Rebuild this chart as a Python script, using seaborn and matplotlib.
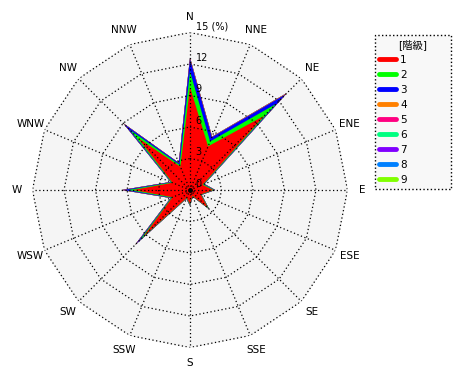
import numpy as np
import pandas as pd
import matplotlib
matplotlib.use("Agg")
import matplotlib.pyplot as plt
import seaborn as sns
from matplotlib.lines import Line2D

# wind directions, clockwise from north
directions = ['N', 'NNE', 'NE', 'ENE', 'E', 'ESE', 'SE', 'SSE',
              'S', 'SSW', 'SW', 'WSW', 'W', 'WNW', 'NW', 'NNW']
levels = ['1', '2', '3', '4', '5', '6', '7', '8', '9']
level_colors = ['#ff0000', '#00ff00', '#0000ff', '#ff8000', '#ff0080',
                '#00ff80', '#8000ff', '#0080ff', '#80ff00']

# frequency (%) of each class per direction
lv1 = [9.8, 4.5, 10.0, 1.3, 2.2, 1.1, 2.4, 0.6, 1.35, 0.8, 6.3, 1.8, 5.4, 1.8, 7.0, 2.4]
lv2 = [1.5, 0.5, 1.6, 0.1, 0.1, 0.05, 0.12, 0.05, 0.08, 0.05, 0.5, 0.1, 0.5, 0.1, 1.1, 0.2]
lv3 = [1.2, 0.45, 1.3, 0.08, 0.08, 0.04, 0.06, 0.04, 0.05, 0.04, 0.5, 0.08, 0.5, 0.08, 0.8, 0.18]
lv4 = [0.1, 0.05, 0.15, 0.02, 0.02, 0.01, 0.02, 0.01, 0.02, 0.01, 0.1, 0.02, 0.1, 0.02, 0.1, 0.02]
lv5 = [0.01, 0.0, 0.02, 0.0, 0.0, 0.0, 0.0, 0.0, 0.0, 0.0, 0.01, 0.0, 0.01, 0.0, 0.01, 0.0]
lv6 = [0.01, 0.0, 0.01, 0.0, 0.0, 0.0, 0.0, 0.0, 0.0, 0.0, 0.0, 0.0, 0.01, 0.0, 0.01, 0.0]
lv7 = [0.0, 0.0, 0.01, 0.0, 0.0, 0.0, 0.0, 0.0, 0.0, 0.0, 0.0, 0.0, 0.0, 0.0, 0.0, 0.0]
lv8 = [0.0, 0.0, 0.0, 0.0, 0.0, 0.0, 0.0, 0.0, 0.0, 0.0, 0.0, 0.0, 0.0, 0.0, 0.0, 0.0]
lv9 = [0.0, 0.0, 0.0, 0.0, 0.0, 0.0, 0.0, 0.0, 0.0, 0.0, 0.0, 0.0, 0.0, 0.0, 0.0, 0.0]

rings = [3, 6, 9, 12, 15]
ring_labels = ['3', '6', '9', '12', '15 (%)']

df = pd.DataFrame(dict(zip(levels, [lv1, lv2, lv3, lv4, lv5, lv6, lv7, lv8, lv9])),
                  index=directions)
cum = df.cumsum(axis=1)

sns.set_style("white")
plt.rcParams['font.family'] = ['DejaVu Sans', 'Noto Sans CJK JP']
plt.rcParams['text.color'] = 'black'
palette = sns.color_palette(level_colors)

fig = plt.figure(figsize=(4.7, 3.8), dpi=100)
ax = fig.add_axes([(190 - 157.5) / 470, (380 - 190 - 157.5) / 380,
                   315 / 470, 315 / 380], projection='polar')
ax.set_theta_zero_location('N')
ax.set_theta_direction(-1)
ax.set_ylim(0, 15)
ax.grid(False)
ax.set_xticks([])
ax.set_yticks([])
ax.spines['polar'].set_visible(False)
ax.patch.set_alpha(0)

theta = np.deg2rad(np.arange(len(directions)) * 22.5)
theta_c = np.append(theta, theta[0])

# gray background polygon
ax.fill(theta_c, [15] * len(theta_c), color='#f5f5f5', zorder=0)

# stacked classes, outermost first
for i in range(len(levels) - 1, -1, -1):
    r = cum[levels[i]].values
    ax.fill(theta_c, np.append(r, r[0]), color=palette[i], lw=0, zorder=2)

# dotted grid polygons and spokes
for rv in rings:
    ax.plot(theta_c, [rv] * len(theta_c), color='black', ls=(0, (1, 2)), lw=0.9, zorder=5)
for t in theta:
    ax.plot([t, t], [0, 15], color='black', ls=(0, (1, 2)), lw=0.9, zorder=5)
ax.plot([0], [0], 'o', color='black', ms=2.5, zorder=6)

for rv, lab in zip([0] + rings, ['0'] + ring_labels):
    ax.annotate(lab, xy=(0, rv), xytext=(4, 1), textcoords='offset points',
                ha='left', va='bottom', fontsize=7, color='black', zorder=7)

for t, d in zip(theta, directions):
    ax.text(t, 16.45, d, ha='center', va='center', fontsize=7.5, color='black')

handles = [Line2D([0], [0], color=c, lw=3.5) for c in palette]
leg = fig.legend(handles, levels, loc='upper left',
                 bbox_to_anchor=(375 / 470, 0.484, 76 / 470, 0.424),
                 bbox_transform=fig.transFigure, mode='expand',
                 title='[階級]', title_fontsize=7.5, fontsize=7.5,
                 frameon=True, fancybox=False, edgecolor='black',
                 handlelength=1.6, handletextpad=0.4, labelspacing=0.48,
                 borderpad=0.4, borderaxespad=0)
leg.get_frame().set_linestyle(':')
leg.get_frame().set_facecolor('#f8f8f8')
leg.get_frame().set_alpha(1)
for txt in leg.get_texts():
    txt.set_color('black')
leg.get_title().set_color('black')

fig.savefig('out.png', dpi=100)
